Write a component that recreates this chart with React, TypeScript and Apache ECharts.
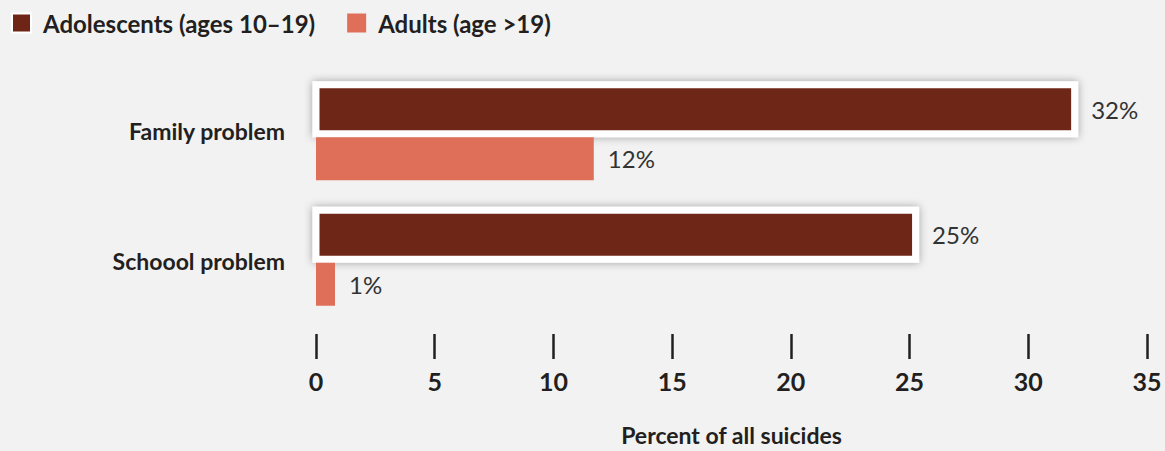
import React, { useEffect, useRef } from "react";
import * as echarts from "echarts";

const categories = ["Family problem", "Schoool problem"];
const adolescents = [32.1, 25.4];
const adults = [11.7, 0.8];
const seriesNames = ["Adolescents (ages 10–19)", "Adults (age >19)"];
const xTicks = [0, 5, 10, 15, 20, 25, 30, 35];

const DARK = "#6e2516";
const LIGHT = "#e06f59";
const TEXT = "#231f20";
const FONT = "Lato, 'DejaVu Sans', sans-serif";
// small lead-in so the framed bar's white border starts just left of zero, as in the original
const FRAME_LEAD = -0.36;

export default function App() {
  const ref = useRef<HTMLDivElement>(null);
  useEffect(() => {
    document.body.style.margin = "0";
    document.body.style.background = "#f2f2f2";
    const chart = echarts.init(ref.current!, null, { renderer: "svg" });
    const valueLabel = (distance: number) => ({
      show: true,
      position: "right",
      distance,
      fontFamily: FONT,
      fontSize: 24,
      color: "#333333",
      formatter: (p: any) => `${Math.round(p.value)}%`,
    });
    chart.setOption({
      animation: false,
      backgroundColor: "#f2f2f2",
      textStyle: { fontFamily: FONT },
      legend: {
        left: 11,
        top: 11,
        padding: 0,
        icon: "rect",
        itemWidth: 19,
        itemHeight: 19,
        itemGap: 32,
        textStyle: {
          fontFamily: FONT,
          fontSize: 24,
          fontWeight: "bold",
          color: TEXT,
          padding: [0, 0, 0, 7],
        },
        data: seriesNames,
      },
      grid: { left: 316, right: 18, top: 68, height: 254 },
      xAxis: {
        type: "value",
        min: xTicks[0],
        max: xTicks[xTicks.length - 1],
        interval: 5,
        offset: 15,
        splitLine: { show: false },
        axisLine: { show: false },
        axisTick: { show: true, length: 25, lineStyle: { color: TEXT, width: 2.5 } },
        axisLabel: {
          margin: 34,
          fontFamily: FONT,
          fontSize: 25,
          fontWeight: "bold",
          color: TEXT,
        },
        name: "Percent of all suicides",
        nameLocation: "middle",
        nameGap: 89,
        nameTextStyle: { fontFamily: FONT, fontSize: 23, fontWeight: "bold", color: TEXT },
      },
      yAxis: {
        type: "category",
        inverse: true,
        data: categories,
        axisLine: { show: false },
        axisTick: { show: false },
        axisLabel: {
          margin: 31,
          fontFamily: FONT,
          fontSize: 23,
          fontWeight: "bold",
          color: TEXT,
          formatter: (v: string, i: number) => (i === 1 ? `{b|${v}}` : `{a|${v}}`),
          rich: {
            a: { fontFamily: FONT, fontSize: 23, fontWeight: "bold", color: TEXT },
            b: { fontFamily: FONT, fontSize: 23, fontWeight: "bold", color: TEXT, padding: [10, 0, 0, 0] },
          },
        },
      },
      series: [
        {
          name: "_lead",
          type: "bar",
          stack: "adol",
          stackStrategy: "all",
          data: categories.map(() => FRAME_LEAD),
          barWidth: 56,
          barGap: "0%",
          silent: true,
          itemStyle: { color: "rgba(0,0,0,0)" },
          label: { show: false },
          tooltip: { show: false },
        },
        {
          name: seriesNames[0],
          type: "bar",
          stack: "adol",
          stackStrategy: "all",
          data: adolescents.map((v) => v - FRAME_LEAD),
          barWidth: 56,
          barGap: "0%",
          itemStyle: {
            color: DARK,
            borderColor: "#ffffff",
            borderWidth: 7,
            shadowColor: "rgba(0,0,0,0.35)",
            shadowBlur: 8,
          },
          label: {
            ...valueLabel(13),
            formatter: (p: any) => `${Math.round(adolescents[p.dataIndex])}%`,
          },
        },
        {
          name: seriesNames[1],
          type: "bar",
          data: adults,
          barWidth: 43,
          barGap: "0%",
          itemStyle: { color: LIGHT },
          label: valueLabel(14),
        },
      ],
    });
    return () => chart.dispose();
  }, []);
  return <div ref={ref} style={{ width: 1165, height: 451, background: "#f2f2f2" }} />;
}
